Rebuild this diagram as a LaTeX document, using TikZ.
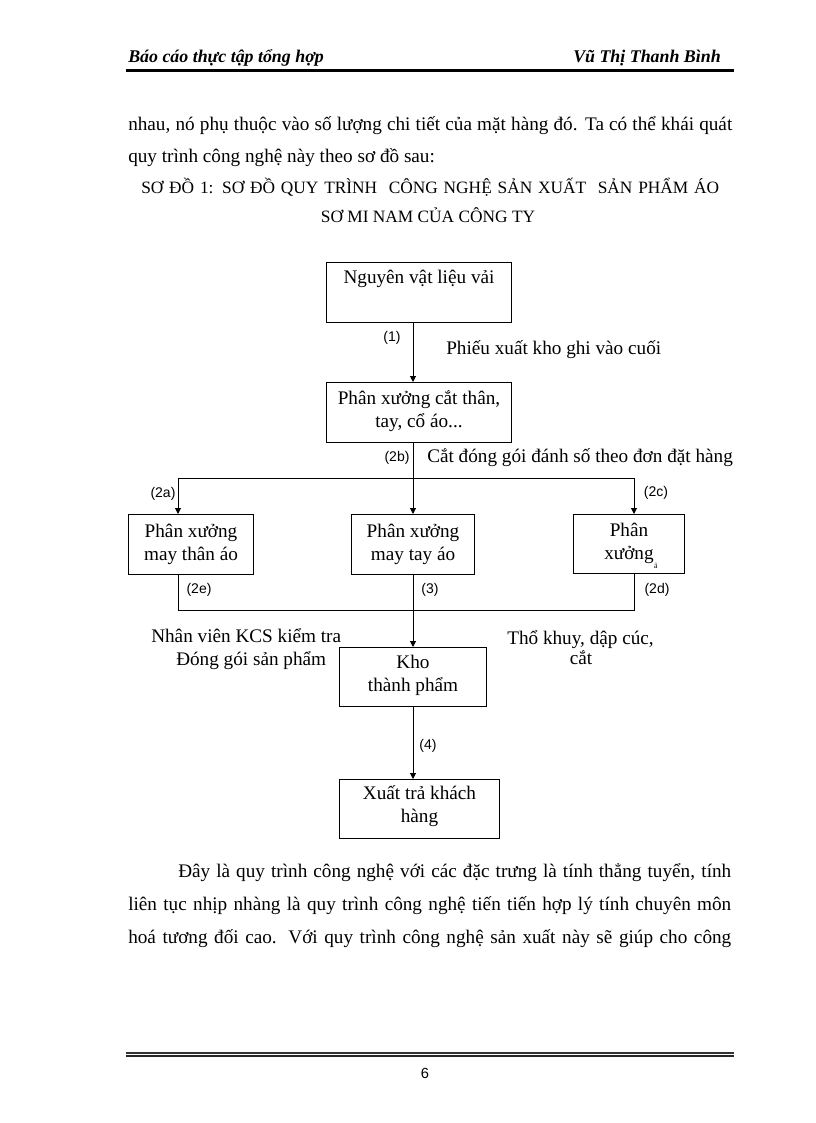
\documentclass[tikz,border=0pt]{standalone}
\usepackage{fontspec}
\setmainfont{Liberation Serif}
\newfontfamily\labelfont{Liberation Sans}
\usetikzlibrary{arrows.meta}
\begin{document}
\begin{tikzpicture}[x=0.75pt,y=-0.75pt,
  ln/.style={line width=0.75pt},
  arr/.style={ln,-{Triangle[length=4.5pt,width=4.5pt]}},
  boxnode/.style={draw,line width=0.75pt,inner xsep=0pt,inner ysep=0pt,anchor=north west,align=center,font=\fontsize{14.4pt}{16.9pt}\selectfont,text height=15pt,text depth=30pt},
  bodytext/.style={inner sep=0pt,anchor=base west,font=\fontsize{14.4pt}{16.9pt}\selectfont},
  titletext/.style={inner sep=0pt,anchor=base,font=\fontsize{13pt}{15pt}\selectfont},
  headtext/.style={inner sep=0pt,anchor=base,font=\fontsize{13.4pt}{15pt}\selectfont\bfseries\itshape},
  lbl/.style={inner sep=0pt,font=\labelfont\fontsize{10.5pt}{12pt}\selectfont},
]
\useasboundingbox (0,0) rectangle (816,1123);
\fill[white] (0,0) rectangle (816,1123);

% header
\node[headtext,anchor=base west] (h1) at (128,63) {Báo cáo thực tập tổng hợp};
\node[headtext,anchor=base east] (h2) at (721,63) {Vũ Thị Thanh Bình};
\draw[line width=1.6pt] (126,70.5) -- (734,70.5);

% top paragraph
\node[bodytext] (p1) at (128,131) {\makebox[453pt][s]{nhau, nó phụ thuộc vào số lượng chi tiết của mặt hàng đó. Ta có thể khái quát}};
\node[bodytext] (p2) at (128,163) {quy trình công nghệ này theo sơ đồ sau:};

% title
\node[titletext,anchor=base west] (t1) at (141,194) {\makebox[433.5pt][s]{SƠ ĐỒ 1: SƠ ĐỒ QUY TRÌNH\ \ CÔNG NGHỆ SẢN XUẤT\ \ SẢN PHẨM ÁO}};
\node[titletext] (t2) at (428,223) {SƠ MI NAM CỦA CÔNG TY};

% boxes (baseline of a two-line box is its last line)
\node[boxnode,minimum width=138.75pt,text height=16pt,text depth=29pt] (b1) at (326,262) {Nguyên vật liệu vải};
\node[boxnode,minimum width=138.75pt,text height=33.4pt,text depth=11.6pt] (b2) at (326,382) {Phân xưởng cắt thân,\\tay, cổ áo...};
\node[boxnode,minimum width=93.75pt,text height=34.4pt,text depth=10.6pt] (b3) at (128,514) {Phân xưởng\\may thân áo};
\node[boxnode,minimum width=92.25pt,text height=34.4pt,text depth=10.6pt] (b4) at (351,514) {Phân xưởng\\may tay áo};
\node[boxnode,minimum width=83.25pt,text height=33.4pt,text depth=10.85pt] (b5) at (573,514) {Phân\\xưởng};
\node[inner sep=0pt,font=\fontsize{6pt}{6pt}\selectfont] (b5mark) at (656,566) {ả};
\node[boxnode,minimum width=110.25pt,text height=32.9pt,text depth=11.35pt] (kho) at (339,647) {Kho\\thành phẩm};
\node[boxnode,minimum width=120pt,text height=32.1pt,text depth=12.15pt] (xuat) at (339,779) {Xuất trả khách\\hàng};

% junction coordinates
\coordinate (jT) at (413,478);
\coordinate (jTL) at (178,478);
\coordinate (jTR) at (634,478);
\coordinate (jB) at (413,610);
\coordinate (jBL) at (178,610);
\coordinate (jBR) at (634,610);

% connectors
\draw[arr] (b1.south -| jT) -- (b2.north -| jT);
\draw[ln] (b2.south -| jT) -- (jT);
\draw[ln] (jTL) -- (jTR);
\draw[arr] (jTL) -- (b3.north -| jTL);
\draw[arr] (jT) -- (b4.north -| jT);
\draw[arr] (jTR) -- (b5.north -| jTR);
\draw[ln] (b3.south -| jBL) -- (jBL) -- (jBR) -- (b5.south -| jBR);
\draw[arr] (b4.south -| jB) -- (kho.north -| jB);
\draw[arr] (kho.south -| jB) -- (xuat.north -| jB);

% connector labels
\node[lbl] (l1) at (392,338) {(1)};
\node[bodytext] (n1) at (446,354) {Phiếu xuất kho ghi vào cuối};
\node[lbl] (l2b) at (397,458) {(2b)};
\node[bodytext] (n2) at (427,462) {Cắt đóng gói đánh số theo đơn đặt hàng};
\node[lbl] (l2a) at (163,494) {(2a)};
\node[lbl] (l2c) at (656,493) {(2c)};
\node[lbl] (l2e) at (199,590) {(2e)};
\node[lbl] (l3) at (430,590) {(3)};
\node[lbl] (l2d) at (657,590) {(2d)};
\node[bodytext] (n3) at (151,642) {Nhân viên KCS kiểm tra};
\node[bodytext] (n4) at (176,665) {Đóng gói sản phẩm};
\node[bodytext] (n5) at (507,644) {Thổ khuy, dập cúc,};
\node[bodytext,anchor=base] (n6) at (581,664) {cắt};
\node[lbl] (l4) at (428,746) {(4)};

% bottom paragraph
\node[bodytext] (q1) at (178,877) {\makebox[414.75pt][s]{Đây là quy trình công nghệ với các đặc trưng là tính thẳng tuyển, tính}};
\node[bodytext] (q2) at (128,910) {\makebox[452.25pt][s]{liên tục nhịp nhàng là quy trình công nghệ tiến tiến hợp lý tính chuyên môn}};
\node[bodytext] (q3) at (128,943) {\makebox[452.25pt][s]{hoá tương đối cao. Với quy trình công nghệ sản xuất này sẽ giúp cho công}};

% footer
\draw[line width=1.2pt,draw=black!80] (126,1053) -- (734,1053);
\draw[line width=0.9pt,draw=black!85] (126,1056) -- (734,1056);
\node[inner sep=0pt,font=\labelfont\fontsize{11pt}{12pt}\selectfont] (pg) at (425,1073) {6};
\end{tikzpicture}
\end{document}
